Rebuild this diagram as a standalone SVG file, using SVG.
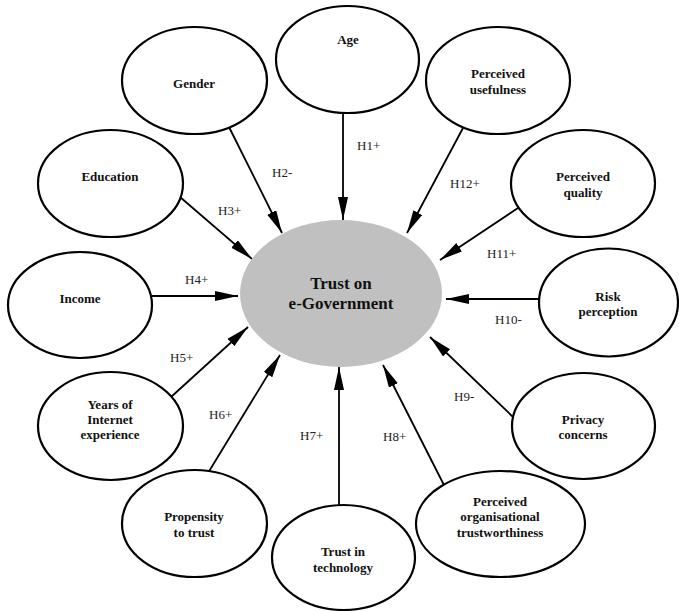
<svg xmlns="http://www.w3.org/2000/svg" width="679" height="611" viewBox="0 0 679 611">
<style>
.node ellipse{fill:#fff;stroke:#000;stroke-width:2.2}
.node text{font-family:"Liberation Serif","Times New Roman",serif;font-weight:bold;font-size:13px;text-anchor:middle;fill:#111}
#center ellipse{fill:#c0c0c0;stroke:none}
#center text{font-size:17px}
.edges line{stroke:#000;stroke-width:1.8;marker-end:url(#arr)}
.edges text{font-family:"Liberation Serif","Times New Roman",serif;font-size:13px;fill:#222}
</style>
<defs>
<marker id="arr" markerUnits="userSpaceOnUse" markerWidth="24" markerHeight="11" refX="23" refY="5" orient="auto">
<path d="M0,0 L23,5 L0,10 z" fill="#000"/>
</marker>
</defs>
<g class="edges">
<line x1="343" y1="113" x2="343" y2="220"/>
<text x="357" y="150">H1+</text>
<line x1="229" y1="127" x2="282" y2="233"/>
<text x="272" y="177">H2-</text>
<line x1="180" y1="197" x2="252" y2="259"/>
<text x="218" y="215">H3+</text>
<line x1="152" y1="296" x2="238" y2="296"/>
<text x="185" y="284">H4+</text>
<line x1="171" y1="397" x2="248" y2="327"/>
<text x="170" y="362">H5+</text>
<line x1="208" y1="473" x2="280" y2="355"/>
<text x="209" y="419">H6+</text>
<line x1="339" y1="505" x2="339" y2="367"/>
<text x="300" y="440">H7+</text>
<line x1="447" y1="491" x2="383" y2="365"/>
<text x="383" y="441">H8+</text>
<line x1="513" y1="417" x2="430" y2="337"/>
<text x="454" y="401">H9-</text>
<line x1="539" y1="299" x2="446" y2="299"/>
<text x="495" y="324">H10-</text>
<line x1="518" y1="208" x2="440" y2="260"/>
<text x="487" y="258">H11+</text>
<line x1="463" y1="128" x2="407" y2="233"/>
<text x="450" y="188">H12+</text>
</g>
<g id="center" class="node">
<ellipse cx="341" cy="293.5" rx="101" ry="73.5"/>
<text x="341" y="289">Trust on</text>
<text x="341" y="309">e-Government</text>
</g>
<g id="age" class="node">
<ellipse cx="347.5" cy="59.5" rx="71.5" ry="53.5"/>
<text x="348" y="44">Age</text>
</g>
<g id="gender" class="node">
<ellipse cx="194.5" cy="80.5" rx="72.5" ry="53.5"/>
<text x="194" y="88">Gender</text>
</g>
<g id="education" class="node">
<ellipse cx="110.5" cy="183.5" rx="72.5" ry="53.5"/>
<text x="110" y="181">Education</text>
</g>
<g id="income" class="node">
<ellipse cx="80" cy="305" rx="72" ry="53"/>
<text x="80" y="303">Income</text>
</g>
<g id="years" class="node">
<ellipse cx="110.5" cy="426" rx="72.5" ry="54"/>
<text x="110" y="409">Years of</text>
<text x="110" y="424">Internet</text>
<text x="110" y="439">experience</text>
</g>
<g id="propensity" class="node">
<ellipse cx="194.5" cy="523.5" rx="72.5" ry="53.5"/>
<text x="194" y="521">Propensity</text>
<text x="194" y="537">to trust</text>
</g>
<g id="trusttech" class="node">
<ellipse cx="343.5" cy="557.5" rx="71.5" ry="52.5"/>
<text x="343" y="556">Trust in</text>
<text x="343" y="572">technology</text>
</g>
<g id="orgtrust" class="node">
<ellipse cx="500.5" cy="524" rx="84.5" ry="53"/>
<text x="500" y="506">Perceived</text>
<text x="500" y="521">organisational</text>
<text x="500" y="537">trustworthiness</text>
</g>
<g id="privacy" class="node">
<ellipse cx="583.5" cy="426" rx="71.5" ry="53"/>
<text x="583" y="424">Privacy</text>
<text x="583" y="439">concerns</text>
</g>
<g id="risk" class="node">
<ellipse cx="608.5" cy="302.5" rx="69.5" ry="54"/>
<text x="608" y="301">Risk</text>
<text x="608" y="316">perception</text>
</g>
<g id="quality" class="node">
<ellipse cx="583" cy="183.5" rx="72" ry="53.5"/>
<text x="583" y="181">Perceived</text>
<text x="583" y="197">quality</text>
</g>
<g id="usefulness" class="node">
<ellipse cx="498" cy="80.5" rx="72" ry="53.5"/>
<text x="498" y="78">Perceived</text>
<text x="498" y="94">usefulness</text>
</g>
</svg>
